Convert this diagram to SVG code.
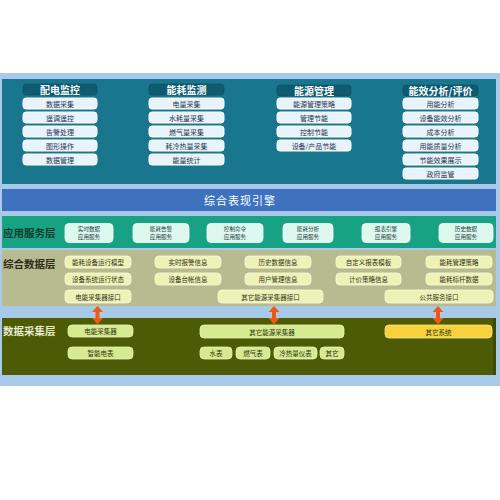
<svg xmlns="http://www.w3.org/2000/svg" width="500" height="500" viewBox="0 0 500 500">
<defs>
<style>
text{font-family:"Noto Sans CJK SC","Noto Sans",sans-serif;text-anchor:middle;dominant-baseline:central}
.hd{fill:#0f5a70;stroke:#0a4a5e;stroke-width:0.5}
.hdt{fill:#ffffff;font-size:10px;font-weight:bold}
.lb{fill:#e9f3fb;stroke:#ffffff;stroke-width:1}
.lbt{fill:#1f3550;font-size:7px}
.gb{fill:#ddf8ef;stroke:#ffffff;stroke-width:0.8}
.gbt{fill:#1f3d40;font-size:5.6px}
.yb{fill:#eff2b6;stroke:#fbfcdf;stroke-width:0.8}
.ybt{fill:#333322;font-size:6.5px}
.ob{fill:#d8ea90;stroke:#e8f2b8;stroke-width:0.8}
.obt{fill:#2e3310;font-size:6.5px}
.lay{font-size:10.5px;font-weight:bold;text-anchor:start}
.arr{fill:#ef5a12}
</style>
</defs>
<rect x="0" y="0" width="500" height="500" fill="#ffffff"/>
<rect x="0" y="73" width="500" height="313" fill="#a8cae8"/>
<!-- bands -->
<rect x="2" y="79" width="494" height="105" fill="#18768f"/>
<rect x="2" y="189" width="494" height="22" fill="#3e72bf"/>
<rect x="2" y="216" width="494" height="32" fill="#16a283"/>
<rect x="2" y="250" width="494" height="56" fill="#b8ba90"/>
<rect x="2" y="318" width="494" height="57" fill="#4d5a06"/>
<rect x="493" y="318" width="3" height="57" fill="#3e4a04"/>

<g id="engine"><text x="240" y="200" fill="#ffffff" style="font-size:11px;letter-spacing:1px">综合表现引擎</text></g>
<g id="layer-app"><text class="lay" x="3" y="232" fill="#123b30">应用服务层</text></g>
<g id="layer-data"><text class="lay" x="3" y="263" fill="#2a2d18">综合数据层</text></g>
<g id="layer-collect"><text class="lay" x="3" y="330" fill="#e8ecd0">数据采集层</text></g>

<!-- column 1 -->
<g id="pdjk">
<rect class="hd" x="23" y="84" width="74" height="11" rx="3"/><text class="hdt" x="60" y="89.5">配电监控</text>
<rect class="lb" x="23" y="98" width="74" height="11" rx="3"/><text class="lbt" x="60" y="103.5">数据采集</text>
<rect class="lb" x="23" y="112" width="74" height="11" rx="3"/><text class="lbt" x="60" y="117.5">遥调遥控</text>
<rect class="lb" x="23" y="126" width="74" height="11" rx="3"/><text class="lbt" x="60" y="131.5">告警处理</text>
<rect class="lb" x="23" y="140" width="74" height="11" rx="3"/><text class="lbt" x="60" y="145.5">图形操作</text>
<rect class="lb" x="23" y="154" width="74" height="11" rx="3"/><text class="lbt" x="60" y="159.5">数据管理</text>
</g>
<g id="nhjc">
<rect class="hd" x="149" y="84" width="75" height="11" rx="3"/><text class="hdt" x="186.5" y="89.5">能耗监测</text>
<rect class="lb" x="149" y="98" width="75" height="11" rx="3"/><text class="lbt" x="186.5" y="103.5">电量采集</text>
<rect class="lb" x="149" y="112" width="75" height="11" rx="3"/><text class="lbt" x="186.5" y="117.5">水耗量采集</text>
<rect class="lb" x="149" y="126" width="75" height="11" rx="3"/><text class="lbt" x="186.5" y="131.5">燃气量采集</text>
<rect class="lb" x="149" y="140" width="75" height="11" rx="3"/><text class="lbt" x="186.5" y="145.5">耗冷热量采集</text>
<rect class="lb" x="149" y="154" width="75" height="11" rx="3"/><text class="lbt" x="186.5" y="159.5">能量统计</text>
</g>
<g id="nygl">
<rect class="hd" x="277" y="85" width="74" height="11" rx="3"/><text class="hdt" x="314" y="90.5">能源管理</text>
<rect class="lb" x="277" y="98" width="74" height="11" rx="3"/><text class="lbt" x="314" y="103.5">能源管理策略</text>
<rect class="lb" x="277" y="112" width="74" height="11" rx="3"/><text class="lbt" x="314" y="117.5">管理节能</text>
<rect class="lb" x="277" y="126" width="74" height="11" rx="3"/><text class="lbt" x="314" y="131.5">控制节能</text>
<rect class="lb" x="277" y="140" width="74" height="11" rx="3"/><text class="lbt" x="314" y="145.5">设备/产品节能</text>
</g>
<g id="nxfx">
<rect class="hd" x="403" y="85" width="75" height="11" rx="3"/><text class="hdt" x="440.5" y="90.5">能效分析/评价</text>
<rect class="lb" x="403" y="98" width="75" height="11" rx="3"/><text class="lbt" x="440.5" y="103.5">用能分析</text>
<rect class="lb" x="403" y="112" width="75" height="11" rx="3"/><text class="lbt" x="440.5" y="117.5">设备能效分析</text>
<rect class="lb" x="403" y="126" width="75" height="11" rx="3"/><text class="lbt" x="440.5" y="131.5">成本分析</text>
<rect class="lb" x="403" y="140" width="75" height="11" rx="3"/><text class="lbt" x="440.5" y="145.5">用能质量分析</text>
<rect class="lb" x="403" y="154" width="75" height="11" rx="3"/><text class="lbt" x="440.5" y="159.5">节能效果展示</text>
<rect class="lb" x="403" y="168" width="75" height="11" rx="3"/><text class="lbt" x="440.5" y="173.5">政府监管</text>
</g>

<!-- application services -->
<g id="app1"><rect class="gb" x="65" y="223.5" width="48" height="19" rx="4"/><text class="gbt" x="89" y="228.8">实时数据</text><text class="gbt" x="89" y="237.3">应用服务</text></g>
<g id="app2"><rect class="gb" x="133" y="223.5" width="56" height="19" rx="4"/><text class="gbt" x="161" y="228.8">能耗告警</text><text class="gbt" x="161" y="237.3">应用服务</text></g>
<g id="app3"><rect class="gb" x="207" y="223.5" width="56" height="19" rx="4"/><text class="gbt" x="235" y="228.8">控制命令</text><text class="gbt" x="235" y="237.3">应用服务</text></g>
<g id="app4"><rect class="gb" x="283" y="223.5" width="50" height="19" rx="4"/><text class="gbt" x="308" y="228.8">能耗分析</text><text class="gbt" x="308" y="237.3">应用服务</text></g>
<g id="app5"><rect class="gb" x="362" y="223.5" width="48" height="19" rx="4"/><text class="gbt" x="386" y="228.8">报表引擎</text><text class="gbt" x="386" y="237.3">应用服务</text></g>
<g id="app6"><rect class="gb" x="439" y="223.5" width="54" height="19" rx="4"/><text class="gbt" x="466" y="228.8">历史数据</text><text class="gbt" x="466" y="237.3">应用服务</text></g>

<!-- integrated data -->
<g id="d1"><rect class="yb" x="65" y="256" width="66" height="12" rx="4"/><text class="ybt" x="98" y="262">能耗设备运行模型</text></g>
<g id="d2"><rect class="yb" x="155" y="256" width="66" height="12" rx="4"/><text class="ybt" x="188" y="262">实时报警信息</text></g>
<g id="d3"><rect class="yb" x="245" y="256" width="66" height="12" rx="4"/><text class="ybt" x="278" y="262">历史数据信息</text></g>
<g id="d4"><rect class="yb" x="336" y="256" width="65" height="12" rx="4"/><text class="ybt" x="368.5" y="262">自定义报表模板</text></g>
<g id="d5"><rect class="yb" x="426" y="256" width="66" height="12" rx="4"/><text class="ybt" x="459" y="262">能耗管理策略</text></g>
<g id="d6"><rect class="yb" x="65" y="273" width="66" height="12" rx="4"/><text class="ybt" x="98" y="279">设备系统运行状态</text></g>
<g id="d7"><rect class="yb" x="155" y="273" width="66" height="12" rx="4"/><text class="ybt" x="188" y="279">设备台帐信息</text></g>
<g id="d8"><rect class="yb" x="245" y="273" width="66" height="12" rx="4"/><text class="ybt" x="278" y="279">用户管理信息</text></g>
<g id="d9"><rect class="yb" x="336" y="273" width="65" height="12" rx="4"/><text class="ybt" x="368.5" y="279">计价策略信息</text></g>
<g id="d10"><rect class="yb" x="426" y="273" width="66" height="12" rx="4"/><text class="ybt" x="459" y="279">能耗标杆数据</text></g>
<g id="d11"><rect class="yb" x="65" y="290" width="66" height="13" rx="4"/><text class="ybt" x="98" y="296.5">电能采集器接口</text></g>
<g id="d12"><rect class="yb" x="218" y="290" width="105" height="13" rx="4"/><text class="ybt" x="270.5" y="296.5">其它能源采集器接口</text></g>
<g id="d13"><rect class="yb" x="385" y="290" width="108" height="13" rx="4"/><text class="ybt" x="439" y="296.5">公共服务接口</text></g>

<!-- collection layer -->
<g id="c1"><rect class="ob" x="68" y="325" width="65" height="12" rx="4"/><text class="obt" x="100.5" y="331">电能采集器</text></g>
<g id="c2"><rect class="ob" x="200" y="325" width="144" height="13" rx="4"/><text class="obt" x="272" y="331.5">其它能源采集器</text></g>
<g id="c3"><rect x="385" y="325" width="107" height="13" rx="4" fill="#f7d23c" stroke="#fbe487" stroke-width="0.8"/><text class="obt" x="438.5" y="331.5">其它系统</text></g>
<g id="c4"><rect class="ob" x="68" y="347" width="65" height="12" rx="4"/><text class="obt" x="100.5" y="353">智能电表</text></g>
<g id="c5"><rect class="ob" x="200" y="347" width="32" height="12" rx="4"/><text class="obt" x="216" y="353">水表</text></g>
<g id="c6"><rect class="ob" x="236" y="347" width="34" height="12" rx="4"/><text class="obt" x="253" y="353">燃气表</text></g>
<g id="c7"><rect class="ob" x="274" y="347" width="43" height="12" rx="4"/><text class="obt" x="295.5" y="353">冷热量仪表</text></g>
<g id="c8"><rect class="ob" x="320" y="347" width="24" height="12" rx="4"/><text class="obt" x="332" y="353">其它</text></g>

<!-- connectors -->
<g id="connectors">
<path class="arr" d="M97.5 306 L103 312 L99.5 312 L99.5 318 L103 318 L97.5 324.5 L92 318 L95.5 318 L95.5 312 L92 312 Z"/>
<path class="arr" d="M274 306 L279.5 312 L276 312 L276 318 L279.5 318 L274 324.5 L268.5 318 L272 318 L272 312 L268.5 312 Z"/>
<path class="arr" d="M438 306 L443.5 312 L440 312 L440 318 L443.5 318 L438 324.5 L432.5 318 L436 318 L436 312 L432.5 312 Z"/>
</g>
</svg>
